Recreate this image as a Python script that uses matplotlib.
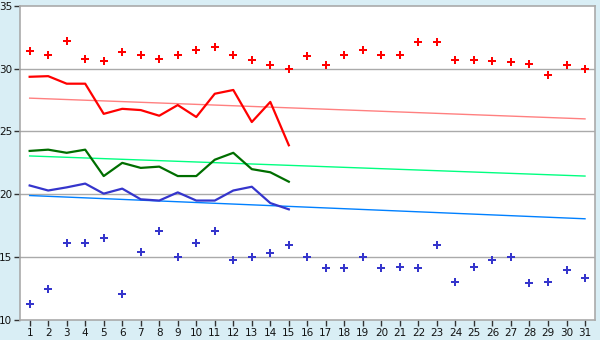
import matplotlib
matplotlib.use('Agg')
import matplotlib.pyplot as plt
import numpy as np

days = list(range(1, 32))

# recorded maxima / minima (dots)
max_rec = [31.4, 31.1, 32.2, 30.8, 30.6, 31.3, 31.1, 30.8, 31.1, 31.5,
           31.7, 31.1, 30.7, 30.3, 30.0, 31.0, 30.3, 31.1, 31.5, 31.1,
           31.1, 32.1, 32.1, 30.7, 30.7, 30.6, 30.5, 30.4, 29.5, 30.3, 30.0]
min_rec = [11.3, 12.5, 16.1, 16.1, 16.5, 12.1, 15.4, 17.1, 15.0, 16.1,
           17.1, 14.8, 15.0, 15.3, 16.0, 15.0, 14.1, 14.1, 15.0, 14.1,
           14.2, 14.1, 16.0, 13.0, 14.2, 14.8, 15.0, 12.9, 13.0, 14.0, 13.3]

# current month, days 1-15
cur_days = list(range(1, 16))
cur_max = [29.35, 29.4, 28.8, 28.8, 26.4, 26.8, 26.7, 26.25, 27.1, 26.15,
           28.0, 28.3, 25.75, 27.35, 23.9]
cur_mean = [23.45, 23.55, 23.3, 23.55, 21.45, 22.5, 22.1, 22.2, 21.45, 21.45,
            22.75, 23.3, 22.0, 21.75, 21.0]
cur_min = [20.7, 20.3, 20.55, 20.85, 20.05, 20.45, 19.6, 19.5, 20.15, 19.5,
           19.5, 20.3, 20.6, 19.3, 18.8]

# trend lines, value at day 1 and day 31
trend_days = [1, 31]
trend_max = [27.65, 26.0]
trend_mean = [23.05, 21.45]
trend_min = [19.9, 18.05]

bg = '#d9eef5'
fig = plt.figure(figsize=(6, 3.4), dpi=100, facecolor=bg)
ax = fig.add_axes([0.034, 0.059, 0.958, 0.924])
ax.set_facecolor('white')

for v in [15, 20, 25, 30]:
    ax.axhline(v, color='#aaaaaa', linewidth=1.0, zorder=1)

ax.plot(trend_days, trend_max, color='#ff8080', linewidth=1.0, zorder=2)
ax.plot(trend_days, trend_mean, color='#00ff80', linewidth=1.0, zorder=2)
ax.plot(trend_days, trend_min, color='#0080ff', linewidth=1.0, zorder=2)

ax.plot(cur_days, cur_max, color='#ff0000', linewidth=1.6, zorder=3)
ax.plot(cur_days, cur_mean, color='#006e00', linewidth=1.6, zorder=3)
ax.plot(cur_days, cur_min, color='#3535cc', linewidth=1.6, zorder=3)

ax.plot(days, max_rec, linestyle='none', marker='P', markersize=5.5,
        color='#ff0000', markeredgewidth=0, zorder=4)
ax.plot(days, min_rec, linestyle='none', marker='P', markersize=5.5,
        color='#3535cc', markeredgewidth=0, zorder=4)

ax.set_xlim(0.5, 31.55)
ax.set_ylim(10, 35)
ax.set_xticks(days)
ax.set_yticks([10, 15, 20, 25, 30, 35])
ax.tick_params(axis='both', labelsize=7.5, length=4, width=1, color='#333333',
               labelcolor='#111111', pad=2)
for s in ax.spines.values():
    s.set_color('#aaaaaa')
    s.set_linewidth(1.2)

fig.savefig('out.png', dpi=100, facecolor=bg)
